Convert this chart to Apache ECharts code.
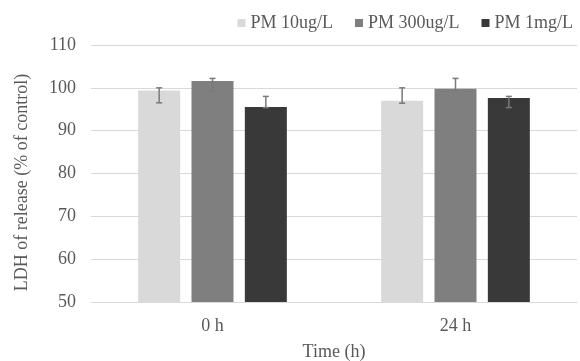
<!DOCTYPE html>
<html><head><meta charset="utf-8">
<script src="https://cdn.jsdelivr.net/npm/echarts@6/dist/echarts.min.js"></script>
<style>html,body{margin:0;padding:0;background:#fff}#c{width:580px;height:361px}</style>
</head><body><div id="c"></div>
<script>
const categories = ['0 h', '24 h'];
const seriesNames = ['PM 10ug/L', 'PM 300ug/L', 'PM 1mg/L'];
const pm10 = [99.4, 97.0];
const pm300 = [101.6, 99.8];
const pm1mg = [95.5, 97.6];
const errLow10 = [96.5, 96.4];
const errHigh10 = [100.0, 100.0];
const errLow300 = [99.3, 99.3];
const errHigh300 = [102.2, 102.2];
const errLow1mg = [95.4, 95.4];
const errHigh1mg = [98.0, 98.0];
const yTicks = [50, 60, 70, 80, 90, 100, 110];

const colors = ['#d9d9d9', '#7f7f7f', '#393939'];
const font = 'Liberation Serif';
const barW = 42, gapFrac = 0.27;
const values = [pm10, pm300, pm1mg];
const lows = [errLow10, errLow300, errLow1mg];
const highs = [errHigh10, errHigh300, errHigh1mg];

const series = seriesNames.map((n, i) => ({
  name: n, type: 'bar', data: values[i], barWidth: barW, barGap: (gapFrac*100)+'%',
  itemStyle: { color: colors[i] }, z: 2
}));

const errData = [];
for (let s = 0; s < 3; s++) for (let c = 0; c < categories.length; c++) errData.push([c, lows[s][c], highs[s][c], s]);
series.push({
  type: 'custom', name: 'err', data: errData, z: 5, silent: true,
  renderItem: function (params, api) {
    const c = api.value(0), s = api.value(3);
    const gap = barW * gapFrac;
    const offset = (s - 1) * (barW + gap);
    const lo = api.coord([c, api.value(1)]);
    const hi = api.coord([c, api.value(2)]);
    const x = lo[0] + offset;
    const cap = 3;
    const st = { stroke: '#7a7a7a', lineWidth: 1.5 };
    return { type: 'group', children: [
      { type: 'line', shape: { x1: x, y1: hi[1], x2: x, y2: lo[1] }, style: st },
      { type: 'line', shape: { x1: x - cap, y1: hi[1], x2: x + cap, y2: hi[1] }, style: st },
      { type: 'line', shape: { x1: x - cap, y1: lo[1], x2: x + cap, y2: lo[1] }, style: st }
    ]};
  }
});

const chart = echarts.init(document.getElementById('c'), null, { renderer: 'canvas' });
chart.setOption({
  animation: false,
  textStyle: { fontFamily: font },
  legend: {
    data: seriesNames, right: 2, top: 9, itemWidth: 8, itemHeight: 8, itemGap: 22,
    icon: 'rect',
    textStyle: { fontFamily: font, fontSize: 18, color: '#595959' }
  },
  grid: { left: 91, right: 3, top: 45, bottom: 59, containLabel: false, outerBoundsMode: 'none' },
  xAxis: {
    type: 'category', data: categories,
    axisLine: { lineStyle: { color: '#d9d9d9', width: 1 } },
    axisTick: { show: false },
    axisLabel: { fontFamily: font, fontSize: 18, color: '#595959', margin: 15 },
    name: 'Time (h)', nameLocation: 'middle', nameGap: 41,
    nameTextStyle: { fontFamily: font, fontSize: 18, color: '#595959' }
  },
  yAxis: {
    type: 'value', min: yTicks[0], max: yTicks[yTicks.length-1], interval: 10,
    axisLine: { show: false }, axisTick: { show: false },
    splitLine: { lineStyle: { color: '#d9d9d9', width: 1 } },
    axisLabel: { fontFamily: font, fontSize: 18, color: '#595959', margin: 15 },
    name: 'LDH of release (% of control)', nameLocation: 'middle', nameGap: 60,
    nameTextStyle: { fontFamily: font, fontSize: 18, color: '#595959', padding: [0, 18, 0, 0] }
  },
  series: series
});
</script></body></html>
